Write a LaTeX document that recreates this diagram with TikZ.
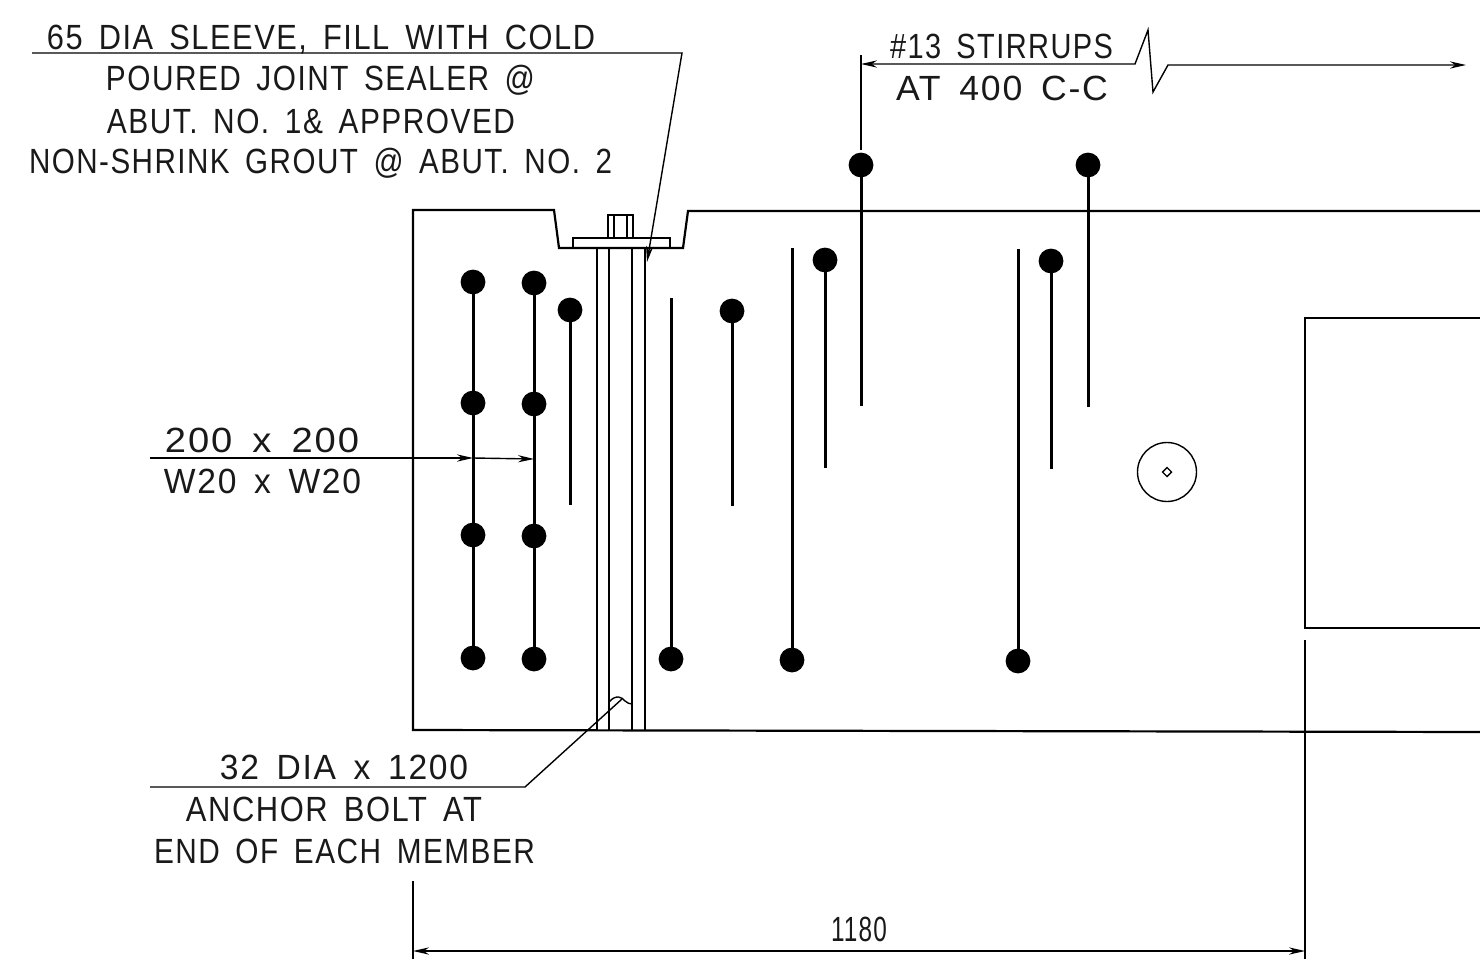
\documentclass[tikz,border=0pt]{standalone}
\usepackage{fontspec}
\setmainfont[LetterSpace=5,WordSpace=1.6]{Liberation Sans}
\usetikzlibrary{arrows.meta,shapes.geometric}
\tikzset{
  x=0.5pt,y=-0.5pt,
  every node/.style={inner sep=0pt,outer sep=0pt},
  heavy/.style={line width=1.5pt,black},
  outline/.style={line width=1.1pt,black,line join=miter},
  thin line/.style={line width=0.7pt,black},
  leader/.style={line width=0.7pt,black,-{Stealth[length=8pt,width=3.6pt]}},
  leaderboth/.style={line width=0.7pt,black,{Stealth[length=8pt,width=3.6pt]}-{Stealth[length=8pt,width=3.6pt]}},
  bardot/.style={circle,fill=black,minimum size=12.4pt},
  note/.style={font=\fontsize{17.5}{20}\selectfont,text=black!90},
}
\newcommand{\lbl}[5]{\node[note] (#1) at (#2,#3) {\resizebox{#4\dimexpr0.5pt\relax}{\height}{#5}};}
\begin{document}
\begin{tikzpicture}
\useasboundingbox (0,0) rectangle (1480,959);
\fill[white] (0,0) rectangle (1480,959);

% concrete outline
\draw[outline] (1480,211) -- (688,211) -- (683,248) -- (559,248) -- (554,210) -- (413,210) -- (413,730) -- (1480,732);
\draw[outline] (1480,318) -- (1305,318) -- (1305,628) -- (1480,628);

% plate and bolt
\draw[outline] (573,248) -- (573,238) -- (670,238) -- (670,248);
\draw[outline] (608,238) -- (608,215) -- (633,215) -- (633,238);
\draw[outline] (614,215) -- (614,238) (627,215) -- (627,238);
\draw[outline] (597,248) -- (597,730) (609,248) -- (609,730) (632,248) -- (632,730) (645,248) -- (645,730);
\draw[thin line] (609,702) .. controls (616,694) and (622,697) .. (625,701) .. controls (627,703) and (630,704) .. (632,704);

% bar dots
\node[bardot] (a1) at (473,282) {};
\node[bardot] (a2) at (473,403) {};
\node[bardot] (a3) at (473,535) {};
\node[bardot] (a4) at (473,658) {};
\node[bardot] (b1) at (534,283) {};
\node[bardot] (b2) at (534,404) {};
\node[bardot] (b3) at (534,536) {};
\node[bardot] (b4) at (534,659) {};
\node[bardot] (c1) at (570,310) {};
\node[bardot] (c2) at (732,311) {};
\node[bardot] (c3) at (825,260) {};
\node[bardot] (c4) at (861,165) {};
\node[bardot] (c5) at (1088,165) {};
\node[bardot] (c6) at (1051,261) {};
\node[bardot] (d1) at (671,659) {};
\node[bardot] (d2) at (792,660) {};
\node[bardot] (d3) at (1018,661) {};
\coordinate (c1e) at (570,505);
\coordinate (c2e) at (732,506);
\coordinate (c3e) at (825,468);
\coordinate (c4e) at (861,406);
\coordinate (c5e) at (1088,407);
\coordinate (c6e) at (1051,469);
\coordinate (d1e) at (671,298);
\coordinate (d2e) at (792,248);
\coordinate (d3e) at (1018,249);
\draw[heavy] (a1) -- (a2) -- (a3) -- (a4);
\draw[heavy] (b1) -- (b2) -- (b3) -- (b4);
\foreach \n in {c1,c2,c3,c4,c5,c6,d1,d2,d3} \draw[heavy] (\n.center) -- (\n e);

% circle mark
\node[circle,draw=black,line width=0.7pt,minimum size=29.5pt] (mark) at (1167,472) {};
\node[diamond,aspect=1,draw=black,line width=0.7pt,minimum size=4.5pt] (markc) at (1167,472) {};

% notes
\lbl{n1}{321}{40}{548}{65 DIA SLEEVE, FILL WITH COLD}
\lbl{n2}{320.5}{80}{429}{POURED JOINT SEALER @}
\lbl{n3}{311}{121}{408}{ABUT. NO. 1\& APPROVED}
\lbl{n4}{320.5}{163}{583}{NON-SHRINK GROUT @ ABUT. NO. 2}
\lbl{s1}{1001.5}{46}{223}{\#13 STIRRUPS}
\lbl{s2}{1002}{88}{212}{AT 400 C-C}
\lbl{m1}{262}{440}{194}{200 x 200}
\lbl{m2}{262.5}{481}{197}{W20 x W20}
\lbl{b1t}{344}{767}{248}{32 DIA x 1200}
\lbl{b2t}{334}{809}{296}{ANCHOR BOLT AT}
\lbl{b3t}{344.5}{851}{381}{END OF EACH MEMBER}
\lbl{dim}{859}{929}{56}{1180}

% leaders
\coordinate (l1a) at (32,53);
\coordinate (l1b) at (682,53);
\coordinate (l1c) at (647,262);
\draw[leader] (l1a) -- (l1b) -- (l1c);
\coordinate (l2a) at (150,787);
\coordinate (l2b) at (525,787);
\coordinate (l2c) at (622,699);
\draw[thin line] (l2a) -- (l2b) -- (l2c);
\coordinate (l3a) at (150,458);
\coordinate (l3m) at (473,458);
\coordinate (l3e) at (534,459);
\draw[leader] (l3a) -- (l3m);
\draw[leader] (l3m) -- (l3e);
% stirrup dimension
\coordinate (s0) at (861,55);
\coordinate (s0e) at (861,150);
\draw[thin line] (s0) -- (s0e);
\coordinate (sa) at (861,64);
\coordinate (sb) at (1466,65);
\draw[leaderboth,line join=miter] (sa) -- (1135,64) -- (1148,30) -- (1153,92) -- (1168,65) -- (sb);
% overall dimension
\coordinate (e1) at (413,881);
\coordinate (e1e) at (413,959);
\coordinate (e2) at (1305,640);
\coordinate (e2e) at (1305,959);
\draw[thin line] (e1) -- (e1e) (e2) -- (e2e);
\coordinate (da) at (413,951);
\coordinate (db) at (1305,951);
\draw[leaderboth] (da) -- (db);
\end{tikzpicture}
\end{document}
